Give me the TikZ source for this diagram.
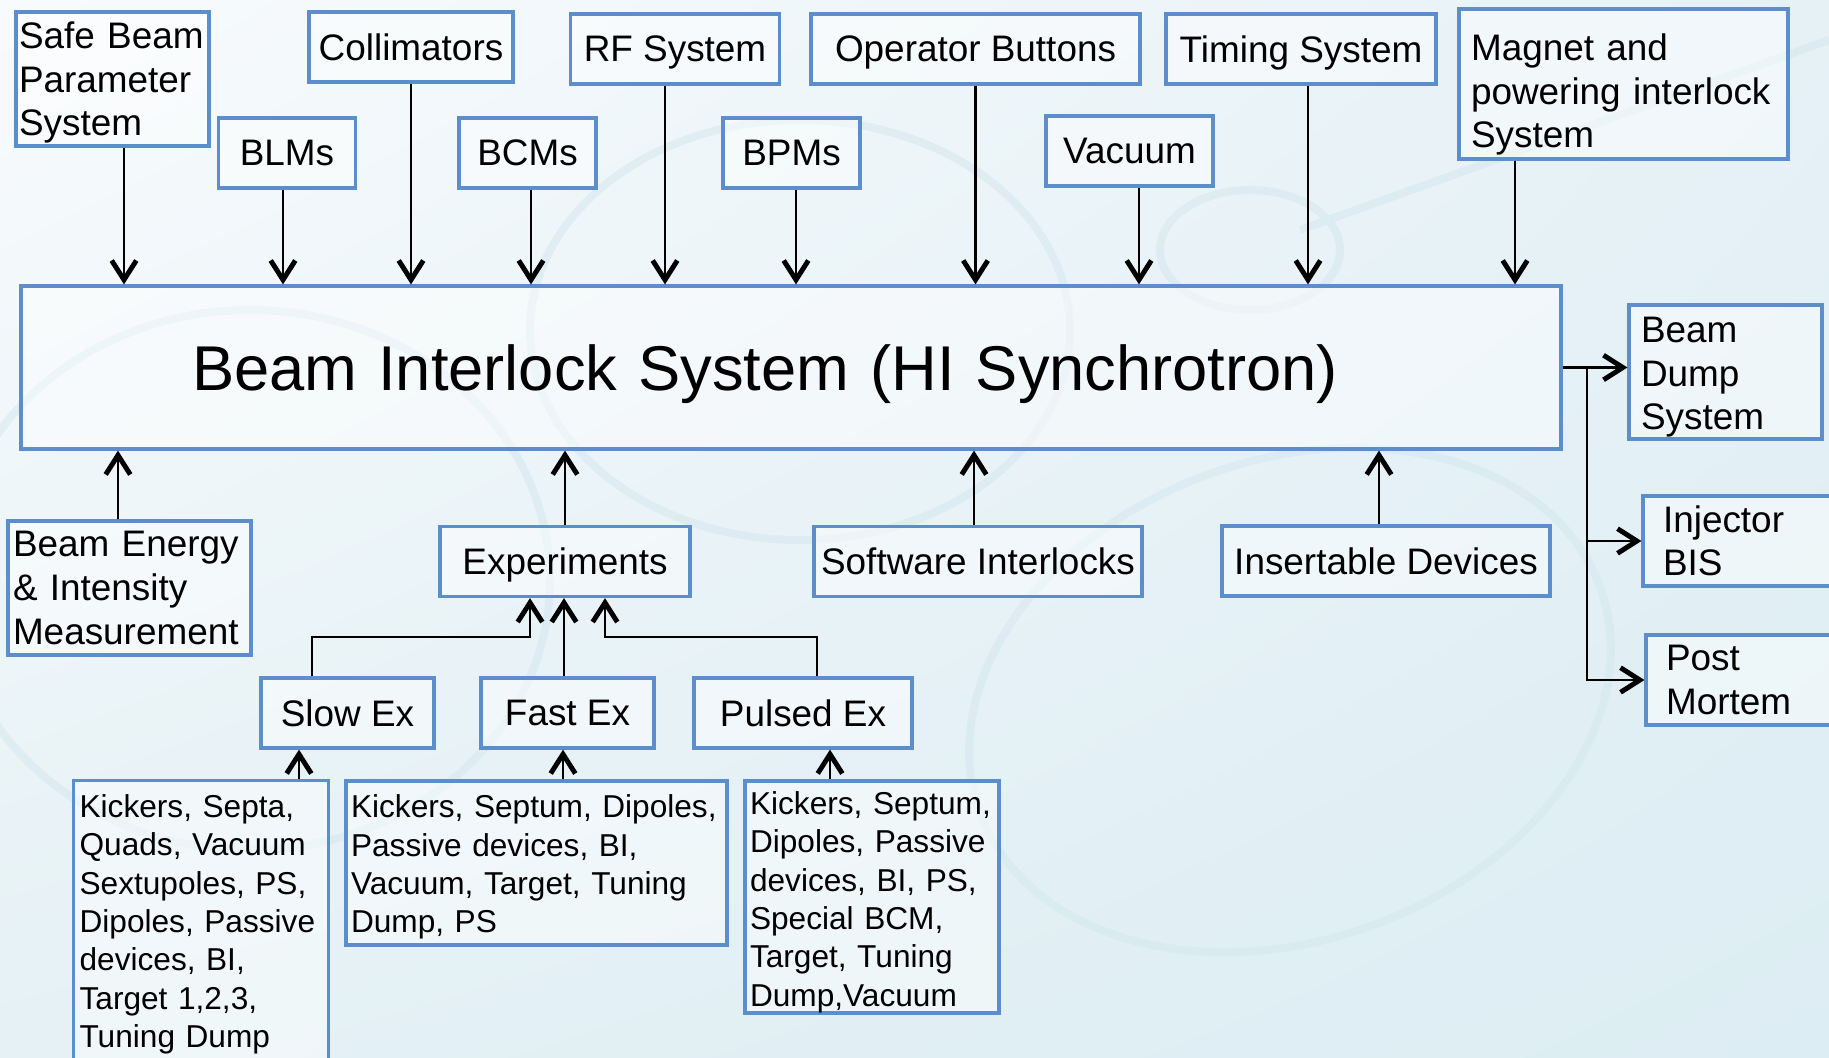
\documentclass[tikz,border=0pt]{standalone}
\usepackage{fontspec}
\setmainfont{Liberation Sans}
\usetikzlibrary{arrows.meta, shadings}

\definecolor{bisBlue}{HTML}{5B8ECB}
\definecolor{bisSwirl}{HTML}{D3E7EF}
\definecolor{bgTopLeft}{HTML}{F8FBFD}
\definecolor{bgTopRight}{HTML}{E6F1F6}
\definecolor{bgBottomLeft}{HTML}{E5F1F5}
\definecolor{bgBottomRight}{HTML}{DCEDF3}

\def\bisPageWidth{182.9}
\def\bisPageHeight{105.7}
\def\bisRowHeight{7mm}
\def\bisBusY{63.7}
\def\bisSplitX{158.7}

\tikzset{
    bisbox/.style={draw=bisBlue, line width=0.9pt, fill=white, fill opacity=0.45,
        text opacity=1, inner sep=0pt, font=\fontsize{10.5}{12.4}\selectfont},
    bisrow/.style={bisbox, minimum height=\bisRowHeight, text depth=0pt},
    bislist/.style={bisbox, align=left, font=\fontsize{9}{10.9}\selectfont},
    bisflow/.style={line width=0.6pt,
        -{Straight Barb[length=5.5pt,width=7pt,line width=1.4pt]}},
}

\begin{document}
\begin{tikzpicture}[x=1mm, y=-1mm]
            \useasboundingbox (0,0) rectangle (\bisPageWidth,\bisPageHeight);
            \clip (0,0) rectangle (\bisPageWidth,\bisPageHeight);
            %% background
            \shade [upper left=bgTopLeft, upper right=bgTopRight,
            lower left=bgBottomLeft, lower right=bgBottomRight]
            (0,0) rectangle (\bisPageWidth,\bisPageHeight);
            \draw [bisSwirl, line width=0.8mm, opacity=0.5]
            (129,70) ellipse [x radius=33, y radius=24, rotate=20]
            (125,25) ellipse [x radius=9, y radius=6]
            (25,58) ellipse [x radius=30, y radius=27]
            (80,33) ellipse [x radius=27, y radius=21]
            (130,23) -- (182.9,4)
            ;
            %% sources above
            \node [bisbox, minimum width=19.3mm, minimum height=13.4mm,
            align=left, inner xsep=0.3mm, text width=18.7mm, text height=3.4mm]
            (safe) at (11.25,7.9) {Safe Beam\\Parameter\\System};
            \node [bisrow, minimum width=13.7mm]
            (blms) at (28.7,15.3) {BLMs};
            \node [bisrow, minimum width=20.4mm]
            (coll) at (41.1,4.7) {Collimators};
            \node [bisrow, minimum width=13.7mm]
            (bcms) at (52.75,15.3) {BCMs};
            \node [bisrow, minimum width=20.9mm]
            (rf) at (67.5,4.9) {RF System};
            \node [bisrow, minimum width=13.7mm]
            (bpms) at (79.15,15.3) {BPMs};
            \node [bisrow, minimum width=32.9mm]
            (oper) at (97.55,4.9) {Operator Buttons};
            \node [bisrow, minimum width=16.7mm]
            (vac) at (112.95,15.1) {Vacuum};
            \node [bisrow, minimum width=27mm]
            (timing) at (130.1,4.9) {Timing System};
            \node [bisbox, minimum width=32.9mm, minimum height=15mm,
            align=left, inner xsep=1.2mm, text width=30.5mm, text height=4.8mm]
            (magnet) at (162.35,8.4) {Magnet and\\powering interlock\\System};
            %% interlock system
            \node [bisbox, minimum width=154mm, minimum height=16.3mm,
            align=left, inner xsep=17.1mm, text width=119.8mm, text depth=0pt,
            font=\fontsize{18}{22}\selectfont]
            (main) at (79.1,36.75) {Beam Interlock System (HI Synchrotron)};
            %% sources below
            \node [bisbox, minimum width=24.3mm, minimum height=13.4mm,
            align=left, inner xsep=0.5mm, text width=23.3mm]
            (energy) at (12.95,58.8) {Beam Energy\\\& Intensity\\Measurement};
            \node [bisrow, minimum width=25mm]
            (exper) at (56.5,56.15) {Experiments};
            \node [bisrow, minimum width=32.8mm]
            (soft) at (97.8,56.15) {Software Interlocks};
            \node [bisrow, minimum width=32.8mm]
            (insert) at (138.6,56.1) {Insertable Devices};
            %% outputs
            \node [bisbox, minimum width=19.3mm, minimum height=13.4mm,
            align=left, inner xsep=1.2mm, text width=16.9mm, text height=3.6mm]
            (dump) at (172.55,37.2) {Beam\\Dump\\System};
            \node [bisbox, minimum width=20mm, minimum height=9mm,
            align=left, inner xsep=2mm, text width=16mm]
            (inj) at (174.3,54.1) {Injector\\BIS};
            \node [bisbox, minimum width=20mm, minimum height=9mm,
            align=left, inner xsep=2mm, text width=16mm]
            (post) at (174.6,68) {Post\\Mortem};
            %% extraction modes
            \node [bisrow, minimum width=17.3mm]
            (slow) at (34.75,71.3) {Slow Ex};
            \node [bisrow, minimum width=17.3mm]
            (fast) at (56.75,71.3) {Fast Ex};
            \node [bisrow, minimum width=21.8mm]
            (pulsed) at (80.3,71.3) {Pulsed Ex};
            %% equipment lists
            \node [bislist, anchor=north west, inner xsep=0.6mm, inner ysep=1.4mm,
            text width=24.3mm]
            (slowlist) at (7.2,77.9) {Kickers, Septa,\\Quads, Vacuum\\Sextupoles, PS,\\Dipoles, Passive\\devices, BI,\\Target 1,2,3,\\Tuning Dump};
            \node [bislist, minimum width=38.1mm, minimum height=16.4mm,
            inner xsep=0.5mm, text width=37.1mm, text height=3.1mm]
            (fastlist) at (53.65,86.3) {Kickers, Septum, Dipoles,\\Passive devices, BI,\\Vacuum, Target, Tuning\\Dump, PS};
            \node [bislist, minimum width=25.4mm, minimum height=23.2mm,
            inner xsep=0.5mm, text width=24.4mm, text height=3.3mm]
            (pulsedlist) at (87.2,89.7) {Kickers, Septum,\\Dipoles, Passive\\devices, BI, PS,\\Special BCM,\\Target, Tuning\\Dump,Vacuum};
            %% arrows into the interlock system
            \draw [bisflow] ([xshift=1.15mm]safe.south) -- ([xshift=1.15mm]safe.south |- main.north);
            \draw [bisflow] ([xshift=-0.4mm]blms.south) -- ([xshift=-0.4mm]blms.south |- main.north);
            \draw [bisflow] (coll.south) -- (coll.south |- main.north);
            \draw [bisflow] ([xshift=0.35mm]bcms.south) -- ([xshift=0.35mm]bcms.south |- main.north);
            \draw [bisflow] ([xshift=-1mm]rf.south) -- ([xshift=-1mm]rf.south |- main.north);
            \draw [bisflow] ([xshift=0.45mm]bpms.south) -- ([xshift=0.45mm]bpms.south |- main.north);
            \draw [bisflow] (oper.south) -- (oper.south |- main.north);
            \draw [bisflow] ([xshift=0.95mm]vac.south) -- ([xshift=0.95mm]vac.south |- main.north);
            \draw [bisflow] ([xshift=0.7mm]timing.south) -- ([xshift=0.7mm]timing.south |- main.north);
            \draw [bisflow] ([xshift=-10.85mm]magnet.south) -- ([xshift=-10.85mm]magnet.south |- main.north);
            %%
            \draw [bisflow] ([xshift=-1.15mm]energy.north) -- ([xshift=-1.15mm]energy.north |- main.south);
            \draw [bisflow] (exper.north) -- (exper.north |- main.south);
            \draw [bisflow] ([xshift=-0.4mm]soft.north) -- ([xshift=-0.4mm]soft.north |- main.south);
            \draw [bisflow] ([xshift=-0.7mm]insert.north) -- ([xshift=-0.7mm]insert.north |- main.south);
            %% outputs
            \coordinate (split) at (\bisSplitX,36.75);
            \draw [bisflow] (main.east) -- (main.east -| dump.west);
            \draw [bisflow] (split) |- (inj.west);
            \draw [bisflow] (split) |- (post.west);
            %% extraction modes into experiments
            \coordinate (bus) at (0,\bisBusY);
            \draw [bisflow] ([xshift=-3.55mm]slow.north) |- ([xshift=-3.5mm]exper.south |- bus)
            -- ([xshift=-3.5mm]exper.south);
            \draw [bisflow] ([xshift=-0.35mm]fast.north) -- ([xshift=-0.35mm]fast.north |- exper.south);
            \draw [bisflow] ([xshift=1.4mm]pulsed.north) |- ([xshift=4mm]exper.south |- bus)
            -- ([xshift=4mm]exper.south);
            %% equipment into modes
            \draw [bisflow] ([xshift=-4.85mm]slow.south |- slowlist.north) -- ([xshift=-4.85mm]slow.south);
            \draw [bisflow] ([xshift=-0.45mm]fast.south |- fastlist.north) -- ([xshift=-0.45mm]fast.south);
            \draw [bisflow] ([xshift=2.7mm]pulsed.south |- pulsedlist.north) -- ([xshift=2.7mm]pulsed.south);
\end{tikzpicture}
\end{document}
